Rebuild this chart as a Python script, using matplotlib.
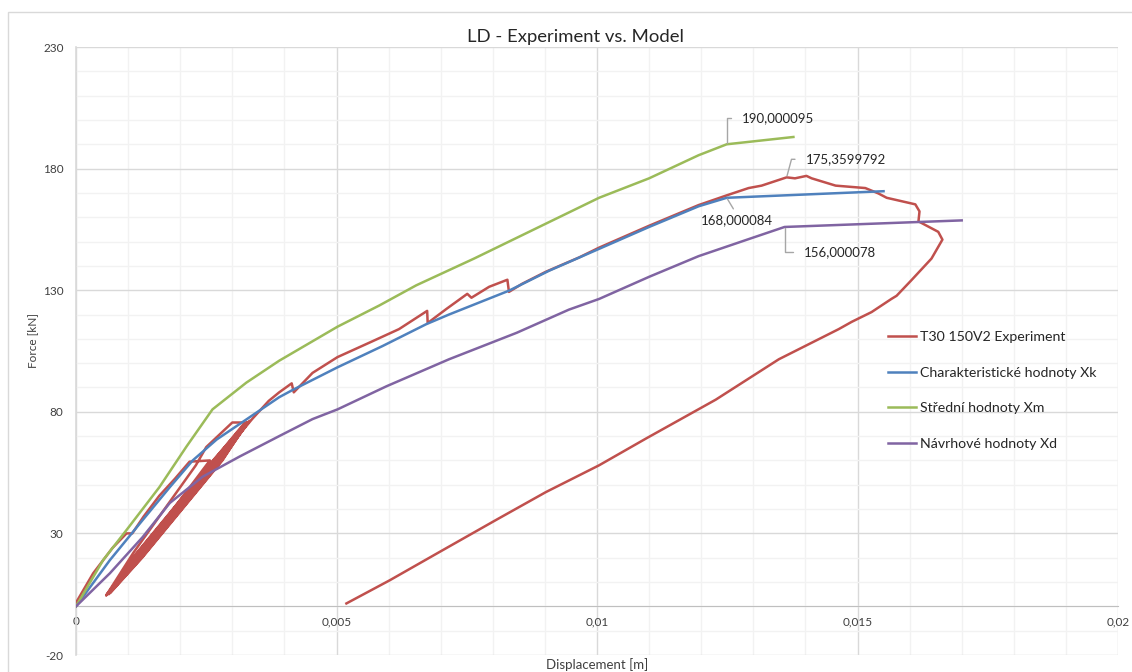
import numpy as np
import matplotlib.pyplot as plt
from matplotlib.ticker import MultipleLocator, FuncFormatter
from matplotlib.patches import Rectangle

plt.rcParams['font.family'] = ['Lato', 'DejaVu Sans']

# T30 150V2 Experiment (first loading, creep steps, reloading cycles, peak, unloading)
exp_x = [0, 0.00033, 0.0007, 0.00097, 0.00108, 0.0013, 0.0016, 0.0019, 0.00218, 0.00257,
         0.00162, 0.00058, 0.0011, 0.0023, 0.0025, 0.0030, 0.0033,
         0.0028, 0.00203, 0.00126, 0.00063, 0.0011, 0.00187, 0.00264, 0.0032,
         0.00276, 0.00199, 0.00122, 0.00058, 0.00114, 0.00191, 0.00268, 0.00328,
         0.00281, 0.00204, 0.00127, 0.00066, 0.00109, 0.00186, 0.00263, 0.00324,
         0.00273, 0.00196, 0.00119, 0.0006, 0.00112, 0.00189, 0.00266, 0.00333,
         0.00278, 0.00201, 0.00124, 0.00062, 0.00118, 0.00195, 0.00272, 0.00338,
         0.0037, 0.0039, 0.00414, 0.00418, 0.00454, 0.00502, 0.00569, 0.0062, 0.00674, 0.00675,
         0.00711, 0.00751, 0.00759, 0.00793, 0.00828, 0.00831, 0.00856, 0.00902, 0.00966,
         0.01004, 0.011, 0.01195, 0.01249, 0.01291, 0.01316, 0.01364, 0.0138, 0.01402, 0.01412,
         0.01458, 0.01515, 0.0154, 0.01556, 0.01611, 0.01619, 0.01617, 0.01655, 0.01663,
         0.01642, 0.01603, 0.01575, 0.01565, 0.01527, 0.01489, 0.01464, 0.01349, 0.01228,
         0.01094, 0.01004, 0.00902, 0.00806, 0.00703, 0.00602, 0.00519]
exp_y = [1.5, 13.6, 24, 30, 30, 37, 45.5, 52.5, 59.5, 60,
         33, 4.5, 22, 58, 65.5, 75.6, 75.6,
         60, 40, 20, 5, 20, 40, 60, 74.5,
         60, 40, 20, 4.6, 20, 40, 60, 75.5,
         60, 40, 20, 5.6, 20, 40, 60, 75,
         60, 40, 20, 5.0, 20, 40, 60, 76.3,
         60, 40, 20, 5.3, 20, 40, 60, 77,
         84.5, 88, 91.7, 88, 96, 102.5, 109, 114, 121.5, 116.5,
         122.3, 128.5, 126.9, 131.4, 134.3, 129.3, 132.6, 137.6, 143.5,
         147.5, 156.5, 165, 169, 172, 173, 176.4, 176, 177, 176,
         173, 172, 169.8, 168, 165.3, 162.4, 158.3, 154, 150.8,
         143, 134, 127.7, 126.4, 121, 117, 114, 101.6, 85,
         69, 58, 47, 35.5, 23, 10.7, 1.2]

# Charakteristicke hodnoty Xk
xk_x = [0, 0.00065, 0.00128, 0.0018, 0.00224, 0.0027, 0.00328, 0.0039, 0.00416, 0.00502,
        0.00588, 0.00672, 0.00716, 0.00831, 0.00908, 0.01004, 0.011, 0.01195, 0.01249, 0.0155]
xk_y = [0, 19, 35.5, 49, 60, 68.6, 77, 86, 89, 98.3,
        107, 116, 120, 129.8, 138, 147, 156, 164.5, 168, 170.7]

# Stredni hodnoty Xm
xm_x = [0, 0.00052, 0.00097, 0.0016, 0.00212, 0.00262, 0.00327, 0.0039, 0.00502, 0.00582,
        0.00653, 0.00764, 0.00908, 0.01004, 0.011, 0.01195, 0.01249, 0.01377]
xm_y = [0, 19, 31.4, 49, 65.7, 81, 92, 101, 115, 123.7,
        132, 143, 158, 168, 176, 185.5, 190, 193]

# Navrhove hodnoty Xd
xd_x = [0, 0.00065, 0.00128, 0.0018, 0.00243, 0.00314, 0.0039, 0.00454, 0.00502, 0.00596,
        0.00716, 0.00846, 0.00946, 0.01004, 0.011, 0.01195, 0.01291, 0.0136, 0.017]
xd_y = [0, 13.6, 28.5, 42.5, 53.3, 61.6, 70, 77, 81, 90.5,
        101.6, 112.5, 122, 126.4, 135.5, 144, 151, 156, 158.7]

labels = ['T30 150V2 Experiment', 'Charakteristické hodnoty Xk',
          'Střední hodnoty Xm', 'Návrhové hodnoty Xd']
colors = ['#C0504D', '#4F81BD', '#9BBB59', '#8064A2']

# data labels: (series, point index, text)
point_labels = [('xm', 16, '190,000095'), ('exp', 82, '175,3599792'),
                ('xk', 18, '168,000084'), ('xd', 17, '156,000078')]

fig = plt.figure(figsize=(11.32, 6.72), dpi=100)
fig.patches.append(Rectangle((8 / 1132, -0.1), 1.2, 1 - 12 / 672 + 0.1, transform=fig.transFigure,
                             fill=False, edgecolor='#D9D9D9', lw=1))
ax = fig.add_axes([76 / 1132, 1 - 655 / 672, (1118 - 76) / 1132, (655 - 47) / 672])

series = {'exp': (exp_x, exp_y), 'xk': (xk_x, xk_y), 'xm': (xm_x, xm_y), 'xd': (xd_x, xd_y)}
for key, lab, col in zip(['exp', 'xk', 'xm', 'xd'], labels, colors):
    sx, sy = series[key]
    ax.plot(sx, sy, color=col, lw=1.8, label=lab, solid_joinstyle='round', zorder=3)

ax.set_xlim(0, 0.02)
ax.set_ylim(-20, 230)
ax.set_yticks([-20, 30, 80, 130, 180, 230])
ax.set_xticks([0, 0.005, 0.01, 0.015, 0.02])
ax.xaxis.set_minor_locator(MultipleLocator(0.001))
ax.set_yticks(np.arange(-20, 231, 10), minor=True)
ax.grid(which='minor', color='#F2F2F2', lw=1)
ax.grid(which='major', color='#D9D9D9', lw=1)
ax.set_axisbelow(True)

comma = FuncFormatter(lambda v, p: ('%g' % v).replace('.', ','))
ax.xaxis.set_major_formatter(comma)
ax.yaxis.set_major_formatter(comma)
ax.tick_params(which='both', length=0, labelsize=8.5, colors='#404040')
ax.tick_params(axis='y', pad=9)
ax.tick_params(axis='x', pad=7)

for s in ['top', 'right']:
    ax.spines[s].set_visible(False)
ax.spines['bottom'].set_position(('data', 0))
ax.spines['bottom'].set_color('#BFBFBF')
ax.spines['left'].set_color('#D9D9D9')
ax.spines['left'].set_linewidth(1.2)

fig.text(575 / 1132, 1 - 37 / 672, 'LD - Experiment vs. Model', ha='center', va='center',
         fontsize=13.3, color='#262626')
fig.text(33 / 1132, 1 - 340 / 672, 'Force [kN]', rotation=90, ha='center', va='center',
         fontsize=8.5, color='#404040')
fig.text(597 / 1132, 1 - 665 / 672, 'Displacement [m]', ha='center', va='center',
         fontsize=9.5, color='#404040')

leader = '#A6A6A6'
for key, idx, txt in point_labels:
    px, py = series[key][0][idx], series[key][1][idx]
    if key == 'xm':
        ax.annotate(txt, (px, py), xytext=(11, 19), textcoords='offset points', ha='left', va='center',
                    fontsize=9.5, color='#262626',
                    arrowprops=dict(arrowstyle='-', color=leader, lw=1, shrinkA=6, shrinkB=1,
                                    relpos=(0, 0.5), connectionstyle='angle,angleA=0,angleB=90,rad=0'))
    elif key == 'exp':
        ax.annotate(txt, (px, py), xytext=(14, 13), textcoords='offset points', ha='left', va='center',
                    fontsize=9.5, color='#262626',
                    arrowprops=dict(arrowstyle='-', color=leader, lw=1, shrinkA=6, shrinkB=1,
                                    relpos=(0, 0.5), connectionstyle='angle,angleA=0,angleB=75,rad=0'))
    elif key == 'xk':
        ax.annotate(txt, (px, py), xytext=(7, -16), textcoords='offset points', ha='center', va='center',
                    fontsize=9.5, color='#262626',
                    arrowprops=dict(arrowstyle='-', color=leader, lw=1, shrinkA=2, shrinkB=1,
                                    relpos=(0.5, 1)))
    else:
        ax.annotate(txt, (px, py), xytext=(14, -18), textcoords='offset points', ha='left', va='center',
                    fontsize=9.5, color='#262626',
                    arrowprops=dict(arrowstyle='-', color=leader, lw=1, shrinkA=6, shrinkB=1,
                                    relpos=(0, 0.5), connectionstyle='angle,angleA=0,angleB=90,rad=0'))

ax.legend(loc='upper left', bbox_to_anchor=(875 / 1132, 1 - 318 / 672), bbox_transform=fig.transFigure,
          frameon=False, fontsize=10.2, handlelength=2.0, handletextpad=0.3, labelspacing=1.68,
          labelcolor='#262626')

fig.savefig('out.png', dpi=100)
